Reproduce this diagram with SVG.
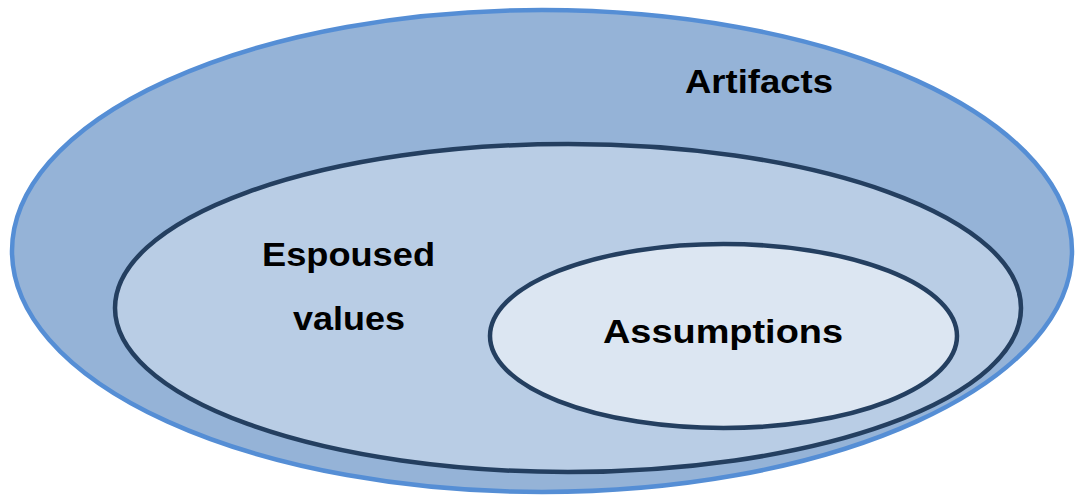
<svg xmlns="http://www.w3.org/2000/svg" width="1075" height="497" viewBox="0 0 1075 497">
  <style>
    .lbl { font-family: "Liberation Sans", Arial, sans-serif; font-weight: bold; font-size: 33px; fill: #000000; }
    .layer { stroke: #243F60; stroke-width: 4.5; }
  </style>
  <rect width="1075" height="497" fill="#FFFFFF"/>
  <g id="artifacts">
    <ellipse cx="542" cy="251" rx="530" ry="241" fill="#95B3D7" stroke="#558ED5" stroke-width="4.5"/>
    <text class="lbl" x="685" y="93" textLength="148" lengthAdjust="spacingAndGlyphs">Artifacts</text>
  </g>
  <g id="espoused-values">
    <ellipse class="layer" cx="568" cy="308" rx="453" ry="164" fill="#B9CDE5"/>
    <text class="lbl" x="262" y="266" textLength="173" lengthAdjust="spacingAndGlyphs">Espoused</text>
    <text class="lbl" x="293" y="330" textLength="112" lengthAdjust="spacingAndGlyphs">values</text>
  </g>
  <g id="assumptions">
    <ellipse class="layer" cx="723.5" cy="336" rx="233.5" ry="92" fill="#DCE6F2"/>
    <text class="lbl" x="603" y="343" textLength="240" lengthAdjust="spacingAndGlyphs">Assumptions</text>
  </g>
  <g id="connectors"/>
</svg>
